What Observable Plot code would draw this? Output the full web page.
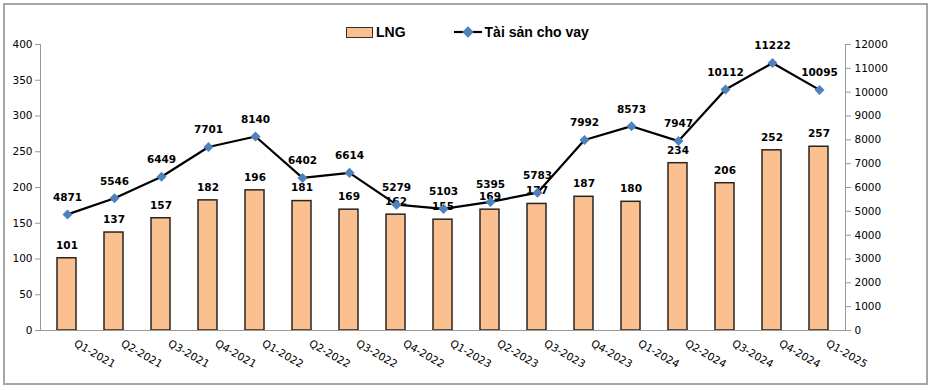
<!DOCTYPE html>
<html><head><meta charset="utf-8">
<script src="https://cdn.jsdelivr.net/npm/d3@7"></script>
<script src="https://cdn.jsdelivr.net/npm/@observablehq/plot@0.6"></script>
<style>
body{margin:0;background:#fff;}
#wrap{position:relative;width:935px;height:390px;overflow:hidden;}
#frame{position:absolute;left:3px;top:3px;width:921px;height:378px;border:2px solid #a6a6a6;}
.layer{position:absolute;left:0;top:0;}
#legend{position:absolute;top:24px;left:346px;display:flex;align-items:center;font-family:"Liberation Sans",Arial,sans-serif;font-weight:bold;font-size:14px;color:#000;}
#legend .sw{width:25px;height:9px;background:#FAC090;border:1.5px solid #333;margin-right:3px;}
#legend .item{display:flex;align-items:center;margin-right:48px;}
</style>
</head><body>
<div id="wrap"><div id="frame"></div><div id="legend"></div></div>
<script>
const quarters = ["Q1-2021","Q2-2021","Q3-2021","Q4-2021","Q1-2022","Q2-2022","Q3-2022","Q4-2022","Q1-2023","Q2-2023","Q3-2023","Q4-2023","Q1-2024","Q2-2024","Q3-2024","Q4-2024","Q1-2025"];
const lng = [101,137,157,182,196,181,169,162,155,169,177,187,180,234,206,252,257];
const loans = [4871,5546,6449,7701,8140,6402,6614,5279,5103,5395,5783,7992,8573,7947,10112,11222,10095];
const leftTicks = [0,50,100,150,200,250,300,350,400];
const rightTicks = [0,1000,2000,3000,4000,5000,6000,7000,8000,9000,10000,11000,12000];
const seriesNames = ["LNG","Tài sản cho vay"];

const barData = quarters.map((q,i)=>({q, v: lng[i]}));
const lineData = quarters.map((q,i)=>({q, v: loans[i]}));

const common = {
  width: 935, height: 390,
  marginLeft: 40, marginRight: 90, marginTop: 44, marginBottom: 60,
  style: {fontFamily: "'DejaVu Sans', sans-serif", fontSize: "10.5px", background: "transparent", overflow: "visible"}
};
const xOpts = {domain: quarters, paddingInner: 0.6, paddingOuter: 0.3};

const p1 = Plot.plot({
  ...common,
  x: xOpts,
  y: {domain: [0, 400]},
  marks: [
    Plot.barY(barData, {x: "q", y: "v", fill: "#FAC090", stroke: "#2b2420", strokeWidth: 1.5}),
    Plot.text(barData, {x: "q", y: "v", text: d => String(d.v), dy: -13, fontWeight: "bold", fontSize: 10.5, fill: "#000"}),
    Plot.axisY({ticks: leftTicks, tickSize: 5, tickPadding: 3, stroke: "#999", color: "#000", label: null}),
    Plot.axisX({tickSize: 0, tickPadding: 12, tickRotate: 30, textAnchor: "start", dx: 8, fontSize: 10.5, label: null}),
    Plot.frame({anchor: "left", stroke: "#999"}),
    Plot.frame({anchor: "bottom", stroke: "#999"})
  ]
});

const p2 = Plot.plot({
  ...common,
  x: {...xOpts, axis: null},
  y: {domain: [0, 12000]},
  marks: [
    Plot.axisY({anchor: "right", ticks: rightTicks, tickFormat: d => String(d), tickSize: 5, tickPadding: 4, stroke: "#999", color: "#000", label: null}),
    Plot.frame({anchor: "right", stroke: "#999"}),
    Plot.line(lineData, {x: "q", y: "v", stroke: "#000", strokeWidth: 2.2}),
    Plot.dot(lineData, {x: "q", y: "v", symbol: "square", r: 4, rotate: 45, fill: "#4F81BD", stroke: "none"}),
    Plot.text(lineData, {x: "q", y: "v", text: d => String(d.v), dy: -17, fontWeight: "bold", fontSize: 10.5, fill: "#000"})
  ]
});

p1.classList.add("layer"); p2.classList.add("layer");
const wrap = document.getElementById("wrap");
wrap.appendChild(p1); wrap.appendChild(p2);

const legend = document.getElementById("legend");
legend.innerHTML = `<div class="item"><div class="sw"></div><span>${seriesNames[0]}</span></div>
<div class="item"><svg width="28" height="12" style="margin-right:3px"><line x1="0" y1="6" x2="28" y2="6" stroke="#000" stroke-width="2.2"/><rect x="10" y="2" width="8" height="8" fill="#4F81BD" transform="rotate(45 14 6)"/></svg><span>${seriesNames[1]}</span></div>`;
</script>
</body></html>
